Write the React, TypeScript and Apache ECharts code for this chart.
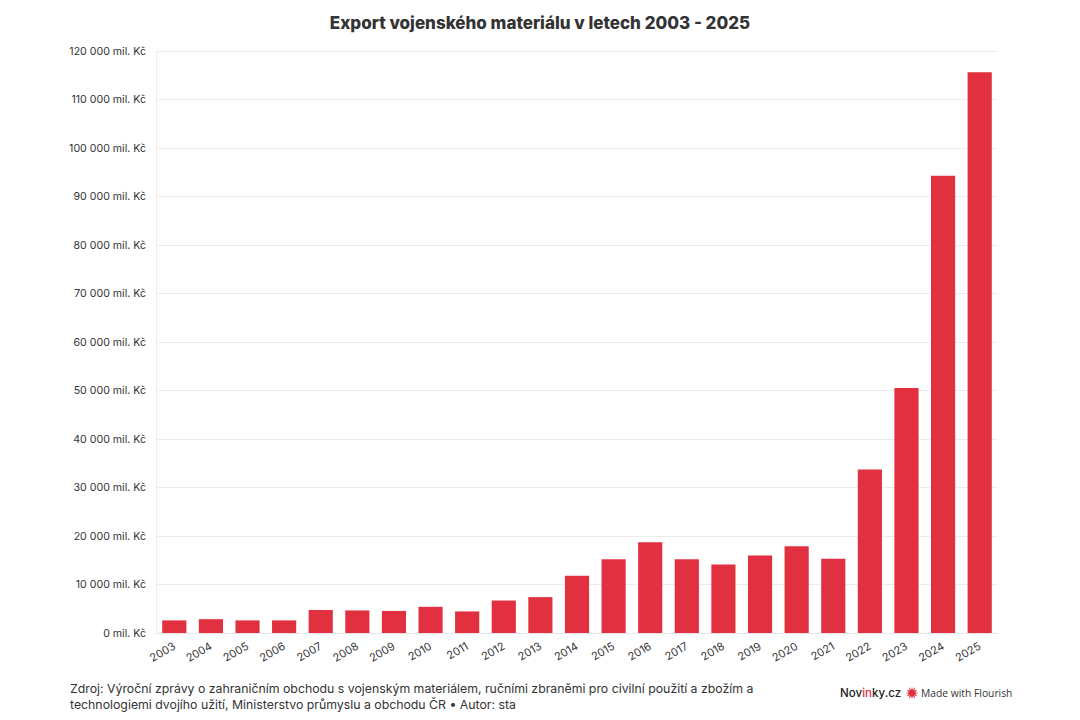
import React, { useEffect, useRef } from "react";
import * as echarts from "echarts";

const years = [
  "2003", "2004", "2005", "2006", "2007", "2008", "2009", "2010", "2011", "2012", "2013", "2014",
  "2015", "2016", "2017", "2018", "2019", "2020", "2021", "2022", "2023", "2024", "2025",
];
const exportValues = [
  2600, 2850, 2600, 2600, 4750, 4650, 4550, 5400, 4450, 6700, 7400, 11800,
  15200, 18700, 15200, 14100, 16000, 17900, 15300, 33700, 50500, 94300, 115600,
];
const yTicks = { min: 0, max: 120000, interval: 10000 };
const titleText = "Export vojenského materiálu v letech 2003 - 2025";
const sourceLines = [
  "Zdroj: Výroční zprávy o zahraničním obchodu s vojenským materiálem, ručními zbraněmi pro civilní použití a zbožím a",
  "technologiemi dvojího užití, Ministerstvo průmyslu a obchodu ČR • Autor: sta",
];

const FONT = "Inter, 'Noto Sans', sans-serif";
const RED = "#e1303f";
const TEXT = "#333333";

function fmt(v: number): string {
  const s = Math.round(v).toString();
  return s.replace(/\B(?=(\d{3})+(?!\d))/g, " ") + " mil. Kč";
}

function starPoints(cx: number, cy: number, rOut: number, rIn: number, n: number): number[][] {
  const pts: number[][] = [];
  for (let i = 0; i < n * 2; i++) {
    const r = i % 2 === 0 ? rOut : rIn;
    const a = (Math.PI * i) / n;
    pts.push([cx + r * Math.cos(a), cy + r * Math.sin(a)]);
  }
  return pts;
}

export default function App() {
  const ref = useRef<HTMLDivElement>(null);
  useEffect(() => {
    if (!ref.current) return;
    const chart = echarts.init(ref.current, undefined, { renderer: "svg" });
    chart.setOption({
      animation: false,
      backgroundColor: "#ffffff",
      title: {
        text: titleText,
        left: "center",
        top: 9,
        textStyle: { fontFamily: FONT, fontSize: 17, fontWeight: 800, color: TEXT },
      },
      grid: { left: 156, right: 82, top: 51, bottom: 87, containLabel: false },
      xAxis: {
        type: "category",
        data: years,
        axisLine: { show: true, lineStyle: { color: "#e6e6e6" } },
        axisTick: { show: false },
        axisLabel: {
          rotate: 30,
          margin: 12,
          fontFamily: FONT,
          fontSize: 11,
          color: TEXT,
        },
      },
      yAxis: {
        type: "value",
        min: yTicks.min,
        max: yTicks.max,
        interval: yTicks.interval,
        axisLine: { show: true, lineStyle: { color: "#ececec" } },
        axisTick: { show: false },
        splitLine: { lineStyle: { color: "#ececec" } },
        axisLabel: {
          margin: 10,
          fontFamily: FONT,
          fontSize: 10.6,
          color: TEXT,
          formatter: (v: number) => fmt(v),
        },
      },
      series: [
        {
          type: "bar",
          data: exportValues,
          barCategoryGap: "34%",
          itemStyle: { color: RED },
        },
      ],
      graphic: [
        {
          type: "text",
          left: 70,
          top: 681,
          style: {
            text: sourceLines.join("\n"),
            fontFamily: FONT,
            fontSize: 12.3,
            lineHeight: 15.5,
            fill: TEXT,
          },
        },
        {
          type: "text",
          left: 840,
          top: 687,
          style: {
            text: "{a|Nov}{b|in}{a|ky.cz}",
            rich: {
              a: { fontFamily: FONT, fontSize: 11.6, fontWeight: 500, fill: "#222222", color: "#222222" },
              b: { fontFamily: FONT, fontSize: 11.6, fontWeight: 500, fill: RED, color: RED },
            },
          },
        },
        {
          type: "polygon",
          shape: { points: starPoints(912, 693, 6.5, 3.2, 12) },
          style: { fill: RED },
        },
        {
          type: "text",
          left: 921,
          top: 688,
          style: {
            text: "Made with Flourish",
            fontFamily: "'Open Sans', sans-serif",
            fontSize: 10.3,
            fill: "#333333",
          },
        },
      ],
    });
    return () => chart.dispose();
  }, []);
  return (
    <div
      ref={ref}
      style={{ position: "fixed", left: 0, top: 0, width: 1080, height: 720, background: "#fff" }}
    />
  );
}
